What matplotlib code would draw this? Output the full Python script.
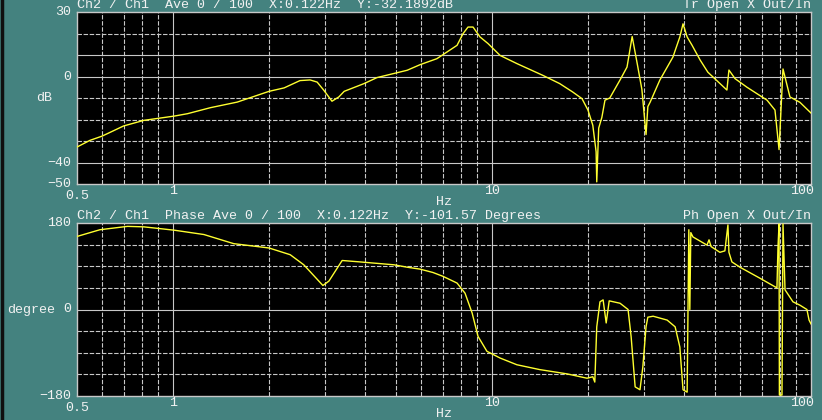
import numpy as np
import matplotlib
matplotlib.use('Agg')
import matplotlib.pyplot as plt
from matplotlib.lines import Line2D

# 전달함수 크기 (Hz, dB)
mag_freq = [0.5, 0.549, 0.60, 0.70, 0.81, 1.01, 1.11, 1.31, 1.59, 2.0, 2.23, 2.50,
            2.69, 2.83, 2.97, 3.15, 3.31, 3.44, 3.97, 4.36, 5.42, 5.95, 6.72, 7.77,
            8.11, 8.41, 8.72, 9.17, 9.72, 10.6, 11.97, 14.45, 16.3, 17.9, 19.15, 20.0,
            20.7, 21.2, 21.3, 21.6, 22.1, 22.6, 23.4, 25.2, 26.5, 27.5, 28.5, 29.5,
            30.4, 30.8, 31.3, 33.6, 36.9, 38.8, 39.7, 40.9, 42.35, 44.9, 47.5, 54.5,
            55.3, 57.8, 63.0, 72.8, 77.1, 79.4, 81.7, 85.9, 92.3, 100]
mag_db = [-32.8, -29.7, -27.7, -23, -20.4, -18.4, -17.3, -14.5, -11.9, -6.9, -5.3, -1.9,
          -1.6, -2.6, -6.4, -11.5, -9.5, -6.9, -3.3, -0.5, 2.9, 5.5, 8.3, 14.5,
          19.9, 23, 23, 18.4, 15.3, 9.8, 6, 0.5, -3.3, -7.2, -10.3, -15.7,
          -22.7, -35, -49, -24, -19, -11, -10, -1.6, 4.4, 18.6, 6.3, -6,
          -27, -14, -12, -1.6, 9, 18.4, 24.5, 18.4, 14.6, 7.7, 2, -6.3,
          3, -1, -5, -11, -15.6, -34, 3.5, -9.5, -12, -17]

# 위상 (Hz, degree)
ph_freq = [0.5, 0.59, 0.72, 0.81, 1.01, 1.25, 1.55, 2.0, 2.33, 2.57, 2.95, 3.08,
           3.39, 3.86, 4.93, 5.42, 5.95, 6.53, 7.02, 7.77, 8.23, 8.66, 9.04, 9.64,
           10.6, 11.97, 14.1, 17.2, 19.85, 20.7, 21.0, 21.3, 21.8, 22.3, 22.8, 23.3,
           25.2, 26.7, 27.3, 28.1, 29.1, 29.7, 30.4, 30.8, 32.0, 35.4, 37.5, 38.8,
           39.7, 40.9, 41.4, 41.7, 42.0, 42.65, 47.2, 47.9, 48.6, 51.8, 53.7, 54.9,
           55.3, 56.5, 59.9, 69.2, 78.2, 78.8, 79.4, 79.6, 81.1, 81.7, 82.9, 87.8,
           92.3, 97.1, 98.6, 100]
ph_deg = [152, 166, 173, 172, 165, 156, 137, 128, 114, 93, 50, 59,
          102, 99, 93, 88, 84, 77, 69, 55, 34, -7, -56, -87,
          -101, -115, -125, -134, -143, -140, -151, -36, 16, 20, -28, 18,
          13, 0, -57, -161, -167, -120, -36, -16, -14, -22, -36, -78,
          -167, -172, 166, 0, 160, 151, 134, 145, 131, 119, 122, 176,
          119, 99, 88, 65, 45, 130, 178, -178, -178, 178, 41, 16,
          9, 0, -22, -30]

xminor = [0.6, 0.7, 0.8, 0.9, 2, 3, 4, 5, 6, 7, 8, 9, 20, 30, 40, 50, 60, 70, 80, 90]
xmajor = [1, 10]
xlabels = ['0.5', '1', '10', '100']
xlabel_pos = [0.5, 1, 10, 100]

BG = '#44827f'
FG = '#f2f2f2'
GRID = '#c8c8c8'
YEL = '#ffff30'
FONT = 'Liberation Mono'
FS = 9.6

plt.rcParams['font.family'] = [FONT, 'DejaVu Sans Mono']
plt.rcParams['axes.unicode_minus'] = False

fig = plt.figure(figsize=(8.22, 4.2), dpi=100, facecolor=BG)
ax1 = fig.add_axes([77/822, 1-184/420, 734/822, 172/420])
ax2 = fig.add_axes([77/822, 1-396/420, 734/822, 173/420])
fig.add_artist(Line2D([0.002, 0.002], [0, 1], color='#101010', lw=2.5))


def setup(ax, ylim, hlines, solid, yticks, ylabel, hdr_l, hdr_r, ylab_x):
    ax.set_facecolor('black')
    ax.set_xscale('log')
    ax.set_xlim(0.5, 100)
    ax.set_ylim(*ylim)
    for s in ax.spines.values():
        s.set_color(GRID)
        s.set_linewidth(1)
    ax.set_xticks([])
    ax.set_yticks([])
    ax.minorticks_off()
    for v in xminor:
        ax.axvline(v, color=GRID, lw=0.8, dashes=(4, 1.5), zorder=1)
    for v in xmajor:
        ax.axvline(v, color=GRID, lw=0.8, zorder=1)
    for v in hlines:
        if v in solid:
            ax.axhline(v, color=GRID, lw=0.8, zorder=1)
        else:
            ax.axhline(v, color=GRID, lw=0.8, dashes=(4, 1.5), zorder=1)
    for v in yticks:
        ax.annotate(str(v).replace('-', '\u2212'), (0, v), xycoords=('axes fraction', 'data'),
                    xytext=(-4, 0), textcoords='offset points',
                    ha='right', va='center', color=FG, fontsize=FS)
    for lab, v in zip(xlabels, xlabel_pos):
        dy = -4.5 if lab == '0.5' else -1
        ha = 'right' if lab == '100' else 'center'
        dx = 2 if lab == '100' else 0
        ax.annotate(lab, (v, 0), xycoords=('data', 'axes fraction'),
                    xytext=(dx, dy), textcoords='offset points',
                    ha=ha, va='top', color=FG, fontsize=FS)
    ax.annotate('Hz', (0.5, 0), xycoords='axes fraction', xytext=(0, -8.5),
                textcoords='offset points', ha='center', va='top', color=FG, fontsize=FS)
    ax.annotate(ylabel, (ylab_x, 0.5), xycoords=('figure fraction', 'axes fraction'),
                ha='center', va='center', color=FG, fontsize=FS)
    ax.annotate(hdr_l, (0, 1), xycoords='axes fraction', xytext=(0, 0.5),
                textcoords='offset points', ha='left', va='bottom', color=FG, fontsize=FS)
    ax.annotate(hdr_r, (1, 1), xycoords='axes fraction', xytext=(0, 0.5),
                textcoords='offset points', ha='right', va='bottom', color=FG, fontsize=FS)


setup(ax1, (-50, 30), [-40, -30, -20, -10, 0, 10, 20], [10, 0, -40], [30, 0, -40, -50], 'dB',
      'Ch2 / Ch1  Ave 0 / 100  X:0.122Hz  Y:-32.1892dB', 'Tr Open X Out/In', 44/822)
setup(ax2, (-180, 180), [-135, -90, -45, 0, 45, 90, 135], [0], [180, 0, -180], 'degree',
      'Ch2 / Ch1  Phase Ave 0 / 100  X:0.122Hz  Y:-101.57 Degrees', 'Ph Open X Out/In', 31/822)

ax1.plot(mag_freq, mag_db, color=YEL, lw=1, zorder=3)
ax2.plot(ph_freq, ph_deg, color=YEL, lw=1, zorder=3)

fig.savefig('out.png', dpi=100, facecolor=BG)
